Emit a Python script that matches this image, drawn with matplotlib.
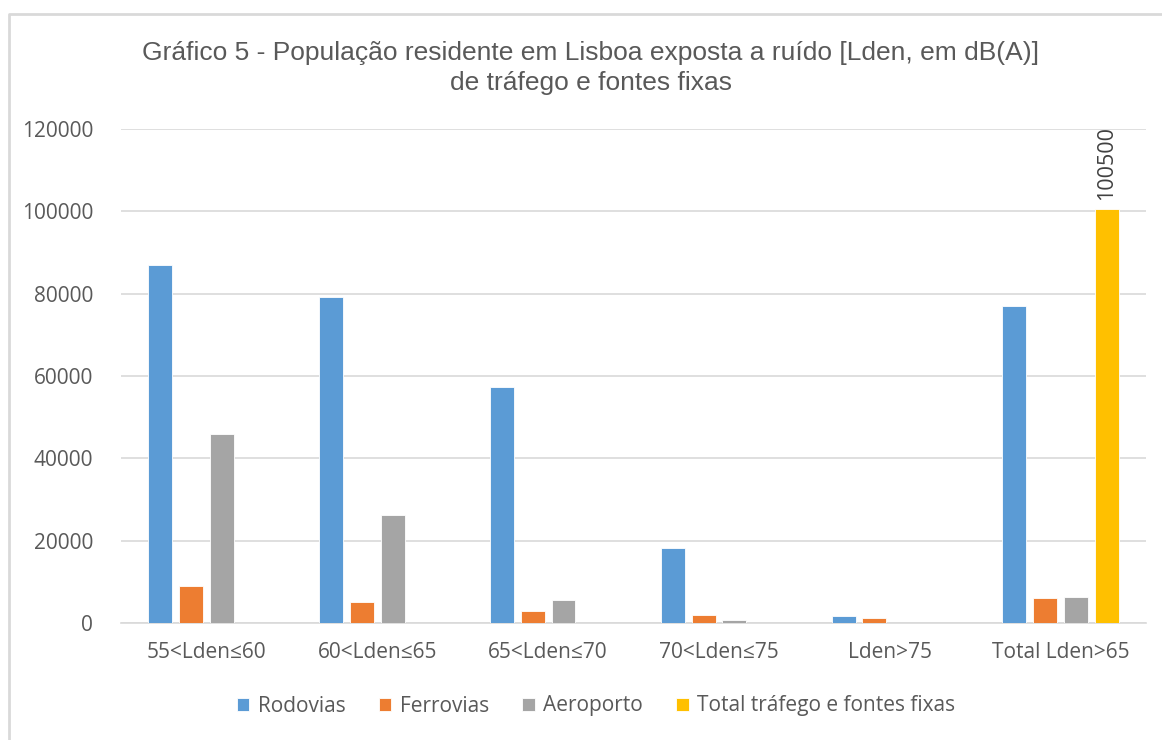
import matplotlib
matplotlib.use('Agg')

import numpy as np
import matplotlib.pyplot as plt
from matplotlib.lines import Line2D

# data
categories = ['55<Lden≤60', '60<Lden≤65', '65<Lden≤70', '70<Lden≤75', 'Lden>75', 'Total Lden>65']
rodovias   = [87000, 79200, 57400, 18100, 1600, 77000]
ferrovias  = [9100, 5000, 2900, 2000, 1100, 6000]
aeroporto  = [45800, 26200, 5500, 700, 0, 6300]
total_fix  = [np.nan, np.nan, np.nan, np.nan, np.nan, 100500]

series = [('Rodovias', rodovias, '#5B9BD5'),
          ('Ferrovias', ferrovias, '#ED7D31'),
          ('Aeroporto', aeroporto, '#A5A5A5'),
          ('Total tráfego e fontes fixas', total_fix, '#FFC000')]

txt = '#595959'
grid = '#D9D9D9'

fig = plt.figure(figsize=(11.62, 7.40), dpi=100)
ax = fig.add_axes([121/1162, 117/740, 1025/1162, 494/740])

x = np.arange(len(categories))
step = 0.18
width = 0.14
bars = []
for i, (name, vals, col) in enumerate(series):
    b = ax.bar(x + (i - 1.5)*step, vals, width, color=col, label=name,
               edgecolor='white', linewidth=0.6, zorder=3)
    bars.append(b)

# label on the total bar
for rect, v in zip(bars[3], total_fix):
    if not np.isnan(v):
        ax.annotate('{:d}'.format(int(v)), (rect.get_x() + rect.get_width()/2, v),
                    xytext=(0, 7), textcoords='offset points', rotation=90,
                    ha='center', va='bottom', fontsize=15.5, color='#404040',
                    family=['Open Sans', 'DejaVu Sans'])

ax.set_xlim(-0.5, len(categories) - 0.5)
ax.set_ylim(0, 120000)
ax.set_yticks(np.arange(0, 120001, 20000))
ax.set_yticklabels(['{:d}'.format(v) for v in range(0, 120001, 20000)])
ax.set_xticks(x)
ax.set_xticklabels(categories)
ax.yaxis.grid(True, color=grid, linewidth=1.2, zorder=0)
ax.set_axisbelow(True)
for s in ['top', 'right', 'left']:
    ax.spines[s].set_visible(False)
ax.spines['bottom'].set_color(grid)
ax.spines['bottom'].set_linewidth(1.2)
ax.tick_params(axis='both', length=0, colors=txt, labelsize=15)
ax.tick_params(axis='y', pad=20)
ax.tick_params(axis='x', pad=14)
for lab in ax.get_xticklabels() + ax.get_yticklabels():
    lab.set_family(['Open Sans', 'DejaVu Sans'])

fig.text(591/1162, 1 - 68/740, 'Gráfico 5 - População residente em Lisboa exposta a ruído [Lden, em dB(A)]\nde tráfego e fontes fixas',
         ha='center', va='center', fontsize=19, color=txt, linespacing=1.35,
         family=['Liberation Sans', 'DejaVu Sans'])

leg = fig.legend(loc='center', bbox_to_anchor=(596/1162, 1 - 706/740), ncol=4,
                 frameon=False, handlelength=0.6, handleheight=0.6,
                 handletextpad=0.4, columnspacing=1.6,
                 prop={'family': ['Open Sans', 'DejaVu Sans'], 'size': 15})
for t in leg.get_texts():
    t.set_color(txt)

# chart frame (only top and left edges visible in the picture)
fig.add_artist(Line2D([9/1162, 9/1162, 1.0], [0.0, 1 - 14/740, 1 - 14/740],
                      transform=fig.transFigure, color=grid, linewidth=2))

plt.savefig('out.png', dpi=100)
plt.close()
